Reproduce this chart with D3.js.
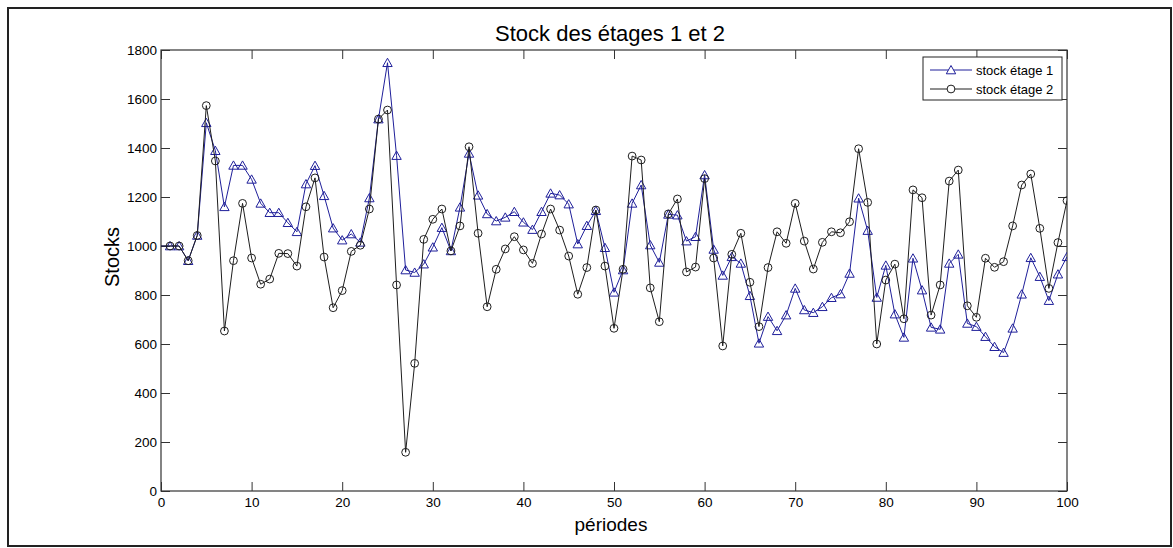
<!DOCTYPE html>
<html>
<head>
<meta charset="utf-8">
<script src="https://cdn.jsdelivr.net/npm/d3@7"></script>
<style>
  html, body { margin: 0; padding: 0; background: #fff; }
  svg { display: block; }
  text { font-family: "Liberation Sans", Arial, Helvetica, sans-serif; fill: #000; }
</style>
</head>
<body>
<svg id="chart" width="1173" height="548"></svg>
<script>
// ---- data ----
const title = "Stock des étages 1 et 2";
const xLabel = "périodes";
const yLabel = "Stocks";
const seriesNames = ["stock étage 1", "stock étage 2"];
const periods = d3.range(0, 101);
const xTicks = [0, 10, 20, 30, 40, 50, 60, 70, 80, 90, 100];
const yTicks = [0, 200, 400, 600, 800, 1000, 1200, 1400, 1600, 1800];

const stock1 = [1000,
  1000, 1000, 940, 1043, 1503, 1389, 1160, 1329, 1329, 1272,
  1174, 1136, 1136, 1095, 1058, 1253, 1328, 1205, 1073, 1024,
  1049, 1015, 1196, 1518, 1748, 1369, 902, 892, 926, 995,
  1075, 980, 1158, 1378, 1207, 1131, 1102, 1117, 1140, 1097,
  1067, 1140, 1215, 1208, 1171, 1008, 1083, 1144, 993, 811,
  902, 1174, 1249, 1004, 933, 1129, 1126, 1020, 1038, 1290,
  986, 880, 956, 929, 797, 603, 712, 654, 718, 827,
  739, 728, 752, 789, 804, 888, 1195, 1063, 790, 921,
  722, 627, 950, 820, 668, 660, 929, 966, 684, 671,
  630, 589, 565, 664, 803, 952, 875, 777, 885, 956];

const stock2 = [1000,
  1000, 1000, 940, 1043, 1573, 1347, 653, 940, 1174, 951,
  844, 865, 970, 969, 918, 1160, 1278, 955, 748, 818,
  978, 1003, 1151, 1518, 1555, 841, 158, 521, 1027, 1109,
  1151, 980, 1082, 1405, 1052, 752, 905, 988, 1038, 984,
  929, 1049, 1151, 1065, 959, 803, 912, 1147, 918, 664,
  905, 1367, 1351, 829, 691, 1131, 1192, 894, 914, 1275,
  951, 592, 966, 1052, 852, 671, 912, 1058, 1011, 1174,
  1020, 906, 1015, 1058, 1054, 1099, 1397, 1178, 600, 861,
  926, 703, 1229, 1197, 718, 841, 1265, 1310, 756, 709,
  950, 913, 936, 1082, 1249, 1294, 1072, 827, 1014, 1185];

// ---- layout ----
const L = 161, R = 1067, T = 50, B = 491;
const col1 = "#1f1f9a", col2 = "#1e1e1e";

const svg = d3.select("#chart");

// outer figure border
svg.append("rect").attr("x", 8).attr("y", 8).attr("width", 1163).attr("height", 538)
  .attr("fill", "none").attr("stroke", "#222").attr("stroke-width", 2);

const x = d3.scaleLinear().domain([0, 100]).range([L, R]);
const y = d3.scaleLinear().domain([0, 1800]).range([B, T]);

svg.append("rect").attr("x", L).attr("y", T).attr("width", R - L).attr("height", B - T)
  .attr("fill", "#fff");

svg.append("defs").append("clipPath").attr("id", "clip")
  .append("rect").attr("x", L).attr("y", T).attr("width", R - L).attr("height", B - T);

const tickLen = 9;
const fs = "13.5px";

const gx = svg.append("g").attr("transform", `translate(0,${B})`)
  .call(d3.axisBottom(x).tickValues(xTicks).tickFormat(d3.format("d"))
    .tickSizeInner(-tickLen).tickSizeOuter(0).tickPadding(6));
const gxt = svg.append("g").attr("transform", `translate(0,${T})`)
  .call(d3.axisTop(x).tickValues(xTicks).tickFormat("")
    .tickSizeInner(-tickLen).tickSizeOuter(0));
const gy = svg.append("g").attr("transform", `translate(${L},0)`)
  .call(d3.axisLeft(y).tickValues(yTicks).tickFormat(d3.format("d"))
    .tickSizeInner(-tickLen).tickSizeOuter(0).tickPadding(4));
const gyr = svg.append("g").attr("transform", `translate(${R},0)`)
  .call(d3.axisRight(y).tickValues(yTicks).tickFormat("")
    .tickSizeInner(-tickLen).tickSizeOuter(0));

[gx, gxt, gy, gyr].forEach(g => {
  g.select(".domain").remove();
  g.selectAll(".tick line").attr("stroke", "#333").attr("stroke-width", 1);
  g.selectAll(".tick text").attr("font-size", fs)
    .attr("font-family", '"Liberation Sans", Arial, sans-serif').attr("fill", "#111");
});

// frame
svg.append("rect").attr("x", L).attr("y", T).attr("width", R - L).attr("height", B - T)
  .attr("fill", "none").attr("stroke", "#333").attr("stroke-width", 1.2);

// series
const plot = svg.append("g").attr("clip-path", "url(#clip)");
const line = d3.line().x((d, i) => x(periods[i])).y(d => y(d));

const tri = "M0,-4.5 L-4.7,3.8 L4.7,3.8 Z";

function drawSeries(vals, color, marker) {
  plot.append("path").datum(vals)
    .attr("d", line).attr("fill", "none").attr("stroke", color).attr("stroke-width", 1);
  const pts = vals.map((v, i) => ({ p: periods[i], v })).filter(d => d.p > 0);
  if (marker === "tri") {
    plot.append("g").selectAll("path").data(pts).join("path")
      .attr("d", tri)
      .attr("transform", d => `translate(${x(d.p)},${y(d.v)})`)
      .attr("fill", "none").attr("stroke", color).attr("stroke-width", 1);
  } else {
    plot.append("g").selectAll("circle").data(pts).join("circle")
      .attr("cx", d => x(d.p)).attr("cy", d => y(d.v)).attr("r", 3.9)
      .attr("fill", "none").attr("stroke", color).attr("stroke-width", 1);
  }
}
drawSeries(stock1, col1, "tri");
drawSeries(stock2, col2, "circ");

// title & labels
svg.append("text").attr("x", 610).attr("y", 41).attr("text-anchor", "middle")
  .attr("font-size", "22px").text(title);
svg.append("text").attr("x", 611).attr("y", 531).attr("text-anchor", "middle")
  .attr("font-size", "19px").text(xLabel);
svg.append("text").attr("transform", `translate(119,257) rotate(-90)`)
  .attr("text-anchor", "middle").attr("font-size", "20px").text(yLabel);

// legend
const lg = svg.append("g");
lg.append("rect").attr("x", 923).attr("y", 57).attr("width", 139).attr("height", 43)
  .attr("fill", "#fff").attr("stroke", "#222").attr("stroke-width", 1);
const legendRows = [
  { name: seriesNames[0], color: col1, marker: "tri", yy: 70 },
  { name: seriesNames[1], color: col2, marker: "circ", yy: 89 }
];
legendRows.forEach(r => {
  lg.append("line").attr("x1", 930).attr("x2", 972).attr("y1", r.yy).attr("y2", r.yy)
    .attr("stroke", r.color).attr("stroke-width", 1);
  if (r.marker === "tri") {
    lg.append("path").attr("d", tri).attr("transform", `translate(951,${r.yy})`)
      .attr("fill", "#fff").attr("stroke", r.color);
  } else {
    lg.append("circle").attr("cx", 951).attr("cy", r.yy).attr("r", 3.9)
      .attr("fill", "#fff").attr("stroke", r.color);
  }
  lg.append("text").attr("x", 976).attr("y", r.yy).attr("dy", "0.36em")
    .attr("font-size", "13px").text(r.name);
});
</script>
</body>
</html>
